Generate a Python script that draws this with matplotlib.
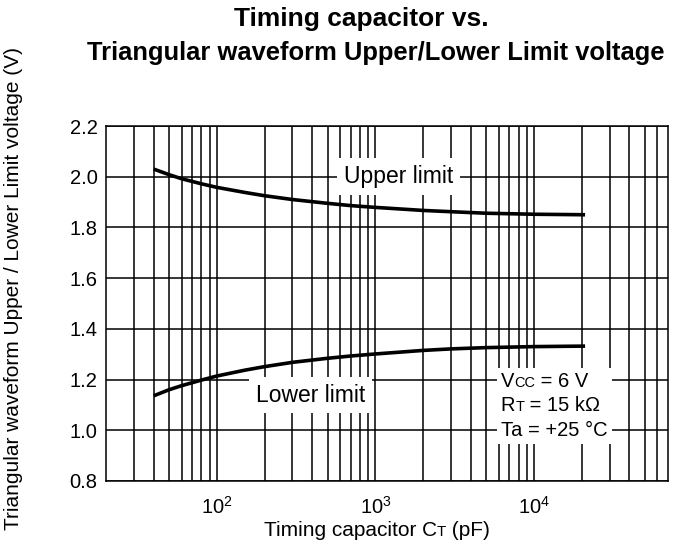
import matplotlib
matplotlib.use("Agg")
import matplotlib.pyplot as plt
from matplotlib.offsetbox import TextArea, HPacker, VPacker, AnnotationBbox

plt.rcParams['font.family'] = ['Liberation Sans', 'DejaVu Sans']

cap_pf = [40, 50, 60, 80, 100, 150, 200, 300, 500, 700, 1000, 2000, 3000, 5000, 10000, 21000]
upper_v = [2.03, 2.008, 1.992, 1.972, 1.958, 1.938, 1.925, 1.91, 1.895, 1.886, 1.879, 1.867, 1.862, 1.856, 1.852, 1.850]
lower_v = [1.136, 1.160, 1.176, 1.198, 1.214, 1.237, 1.251, 1.268, 1.284, 1.293, 1.301, 1.315, 1.321, 1.326, 1.330, 1.332]
y_ticks = [0.8, 1.0, 1.2, 1.4, 1.6, 1.8, 2.0, 2.2]
x_major = [100, 1000, 10000]
x_major_labels = ['$\\mathregular{10^2}$', '$\\mathregular{10^3}$', '$\\mathregular{10^4}$']
x_minor = [30, 40, 50, 60, 70, 80, 90, 200, 300, 400, 500, 600, 700, 800, 900,
           2000, 3000, 4000, 5000, 6000, 7000, 8000, 9000,
           20000, 30000, 40000, 50000, 60000]

W, H = 676, 546
fig = plt.figure(figsize=(W / 100, H / 100), dpi=100)
ax = fig.add_axes([106 / W, 1 - 481 / H, (668 - 106) / W, (481 - 126) / H])
ax.set_xscale('log')
ax.set_xlim(20, 70000)
ax.set_ylim(0.8, 2.2)

TICK_FS = 14.5
LBL_FS = 16.5
ANN_FS = 14.5
AX_FS = 15

for v in x_major + x_minor:
    ax.axvline(v, color='black', lw=1.1, zorder=1)
for v in y_ticks:
    ax.axhline(v, color='black', lw=1.1, zorder=1)

ax.plot(cap_pf, upper_v, color='black', lw=2.6, zorder=3, solid_capstyle='butt')
ax.plot(cap_pf, lower_v, color='black', lw=2.6, zorder=3, solid_capstyle='butt')

ax.set_xticks(x_major)
ax.set_xticklabels(x_major_labels, fontsize=TICK_FS)
ax.set_xticks([], minor=True)
ax.set_yticks(y_ticks)
ax.set_yticklabels([f'{v:.1f}' for v in y_ticks], fontsize=TICK_FS)
ax.tick_params(axis='y', length=0, pad=6)
ax.tick_params(axis='x', length=0, pad=10.5)
for s in ax.spines.values():
    s.set_linewidth(1.1)

bb = dict(facecolor='white', edgecolor='none', pad=5)
ax.text(1406, 2.0, 'Upper limit', fontsize=LBL_FS, ha='center', va='center', bbox=bb, zorder=4)
ax.text(390, 1.139, 'Lower limit', fontsize=LBL_FS, ha='center', va='center', bbox=bb, zorder=4)


def row(parts):
    return HPacker(children=[TextArea(t, textprops=dict(fontsize=s, color='black')) for t, s in parts],
                   align='baseline', pad=0, sep=0)


SM = ANN_FS * 0.72
cond = VPacker(children=[
    row([('V', ANN_FS), ('CC', SM), (' = 6 V', ANN_FS)]),
    row([('R', ANN_FS), ('T', SM), (' = 15 k\u03a9', ANN_FS)]),
    row([('Ta = +25 \u00b0C', ANN_FS)]),
], align='left', pad=0, sep=4)
ab = AnnotationBbox(cond, (13400, 1.096), xycoords='data', frameon=True,
                    bboxprops=dict(facecolor='white', edgecolor='none'), pad=0.3, zorder=4)
ax.add_artist(ab)

xl = row([('Timing capacitor C', AX_FS), ('T', AX_FS * 0.72), (' (pF)', AX_FS)])
ab2 = AnnotationBbox(xl, (377 / W, 1 - 531 / H), xycoords='figure fraction', frameon=False, pad=0)
fig.add_artist(ab2)

fig.text(14 / W, 1 - 288 / H, 'Triangular waveform Upper / Lower Limit voltage (V)',
         rotation=90, fontsize=15, ha='center', va='center')

fig.text(361 / W, 1 - 19 / H, 'Timing capacitor vs.', fontsize=19, fontweight='bold',
         ha='center', va='center')
fig.text(376 / W, 1 - 53 / H, 'Triangular waveform Upper/Lower Limit voltage', fontsize=18.4,
         fontweight='bold', ha='center', va='center')

fig.savefig('out.png', dpi=100)
